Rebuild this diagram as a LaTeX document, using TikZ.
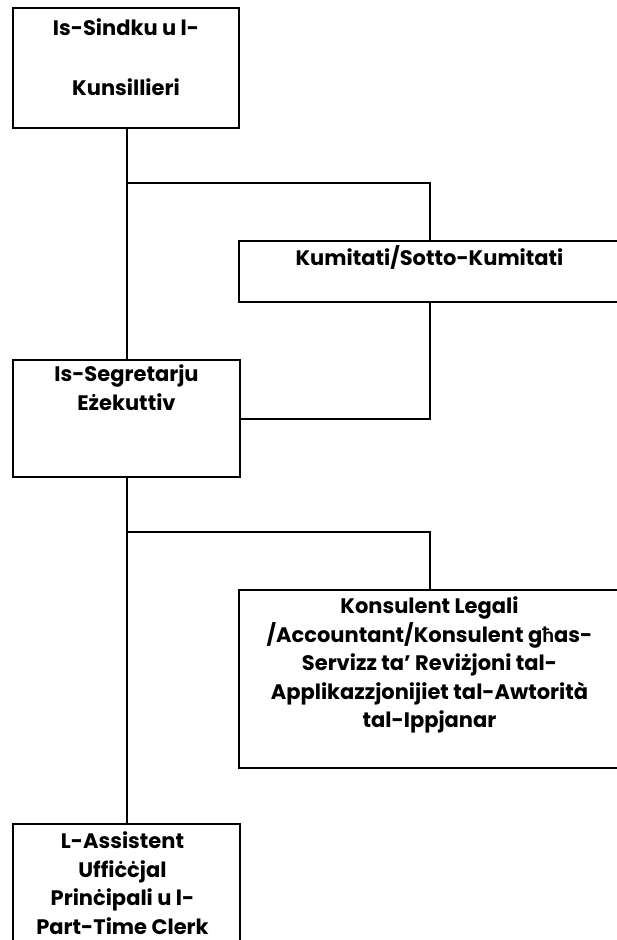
\documentclass[tikz,border=0pt]{standalone}
\usepackage{fontspec}
\setmainfont{Poppins}
\newfontfamily\hbarfont{Lato}
\usepackage{tikz}

\begin{document}
\begin{tikzpicture}[x=1pt, y=-1pt, line width=2pt,
    box/.style={draw, rectangle, anchor=north west, inner sep=0pt},
    lbl/.style={anchor=north, align=center, inner sep=0pt,
        font=\fontsize{21}{28.5}\selectfont\bfseries}]
    \useasboundingbox (0,0) rectangle (616,940);
    % boxes
    \node [box, minimum width=226pt, minimum height=120pt] (sindku) at (12,7) {};
    \node [box, minimum width=381pt, minimum height=61pt] (kumitati) at (238,240) {};
    \node [box, minimum width=227pt, minimum height=117pt] (segretarju) at (12,359) {};
    \node [box, minimum width=381pt, minimum height=178pt] (konsulent) at (238,589) {};
    \node [box, minimum width=227pt, minimum height=130pt] (clerk) at (12,823) {};
    % texts
    \node [lbl] (tsindku) at ([yshift=-11pt]sindku.north) {Is-Sindku u l-\\[31pt]Kunsillieri};
    \node [lbl] (tkumitati) at ([yshift=-5pt]kumitati.north) {Kumitati/Sotto-Kumitati};
    \node [lbl] (tsegretarju) at ([yshift=-5pt]segretarju.north) {Is-Segretarju\\Eżekuttiv};
    \node [lbl] (tkonsulent) at ([yshift=-7pt]konsulent.north) {Konsulent Legali\\/Accountant/Konsulent g{\hbarfont ħ}as-\\Servizz ta’ Reviżjoni tal-\\Applikazzjonijiet tal-Awtorità\\tal-Ippjanar};
    \node [lbl, font=\fontsize{21}{28.5}\selectfont\bfseries] (tclerk) at ([xshift=-4pt, yshift=-8pt]clerk.north) {L-Assistent\\Uffiċċjal\\Prinċipali u l-\\Part-Time Clerk};
    % connectors
    \coordinate (j1) at (127,183);
    \coordinate (j2) at (127,532);
    \draw (sindku.south -| j1) -- (segretarju.north -| j1);
    \draw (j1) -| (kumitati.north);
    \draw (kumitati.south) |- (segretarju.east);
    \draw (segretarju.south -| j2) -- (clerk.north -| j2);
    \draw (j2) -| (konsulent.north);
\end{tikzpicture}
\end{document}
